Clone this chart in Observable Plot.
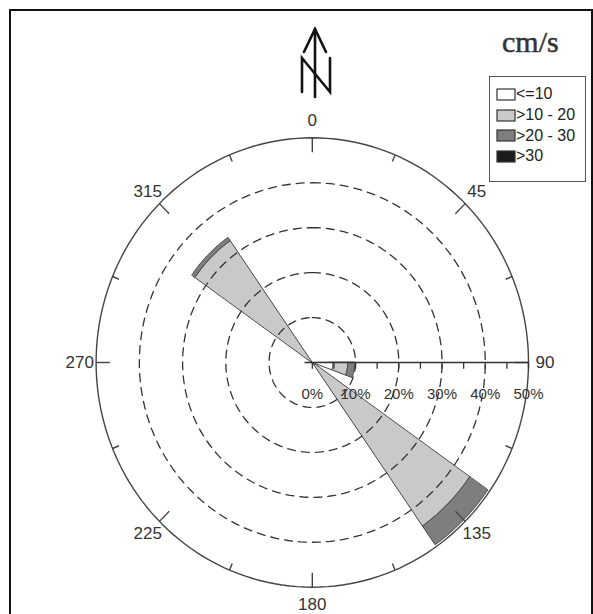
<!DOCTYPE html>
<html>
<head>
<meta charset="utf-8">
<script src="https://cdn.jsdelivr.net/npm/d3@7"></script>
<script src="https://cdn.jsdelivr.net/npm/@observablehq/plot@0.6"></script>
<style>
  html, body { margin: 0; padding: 0; background: #fff; }
  body { width: 593px; height: 614px; position: relative; overflow: hidden;
         font-family: "Liberation Sans", Arial, sans-serif; }
  #chart { position: absolute; left: 0; top: 0; }
  #frame { position: absolute; left: 9px; top: 9px; width: 580px; height: 700px;
           border: 2px solid #111; }
  #north { position: absolute; left: 0; top: 0; pointer-events: none; }
  #unit { position: absolute; left: 502px; top: 27px; font: 30px/30px "Liberation Serif", "Times New Roman", serif;
          color: #333; white-space: nowrap; -webkit-text-stroke: 0.5px #333; }
  #legend { position: absolute; left: 489px; top: 76px; width: 97px; height: 106px;
            border: 1.5px solid #555; box-sizing: border-box; padding: 7px 0 0 7px; background: #fff; }
  #legend .spd-swatches { font: 16px "Liberation Sans", Arial, sans-serif; color: #222; margin: 0; }
  #legend .spd-swatches .spd-swatch { height: 20.7px; padding: 0; display: flex; align-items: center; }
  #legend .spd-swatches .spd-swatch > svg { margin-right: 1px; overflow: visible; }
  #legend .spd-swatch rect { stroke: #333; stroke-width: 1.2px; }
  #legend .spd-swatches .spd-swatch-label { overflow: visible; }
</style>
</head>
<body>
<div id="frame"></div>
<div id="chart"></div>
<svg id="north" width="593" height="110" viewBox="0 0 593 110">
  <g fill="none" stroke="#111" stroke-width="2.6" stroke-linecap="round" stroke-linejoin="miter">
    <path d="M315,29V97"/>
    <path d="M304,52L315,29L326,52"/>
    <path d="M302,92V58L330,92V58"/>
  </g>
</svg>
<div id="unit">cm/s</div>
<div id="legend"></div>
<script>
// Speed classes (cm/s) and their fills
const speedClasses = ["<=10", ">10 - 20", ">20 - 30", ">30"];
const classColors = ["#ffffff", "#c9c9c9", "#7e7e7e", "#1c1c1c"];

// Direction sectors (degrees clockwise from north)
const sectorFrom = [90, 125, 305];
const sectorTo = [110, 145, 325];

// Frequency (%) of each speed class within each sector
const pctCalm = [4.8, 0.8, 0.4];
const pctLow = [3.4, 43.6, 32.7];
const pctMid = [1.6, 5.1, 0.9];
const pctHigh = [0, 0, 0];

// Radial grid and labels
const ringPcts = [10, 20, 30, 40, 50];
const pctTicks = [0, 5, 10, 15, 20, 25, 30, 35, 40, 45, 50];
const pctTickLabels = ["0%", "10%", "20%", "30%", "40%", "50%"];
const pctTickLabelValues = [0, 10, 20, 30, 40, 50];

// Compass ticks and labels
const compassTicks = d3.range(0, 360, 22.5);
const compassAngles = [0, 45, 90, 135, 180, 225, 270, 315];
const compassLabels = ["0", "45", "90", "135", "180", "225", "270", "315"];

// Layout of the polar frame on the page (pixels)
const W = 593, H = 614;
const cx = 311.8, cy = 362, rx = 216.2, ry = 224.7;
const maxPct = d3.max(ringPcts);
const kx = rx / maxPct, ky = ry / maxPct;
const labelR = 53.8;

const rad = (a) => a * Math.PI / 180;
const px = (r, a) => r * Math.sin(rad(a));
const py = (r, a) => r * Math.cos(rad(a));

// Band polygons: outer arc then inner arc back
const bands = [];
const arcSteps = 30;
sectorFrom.forEach((a0, i) => {
  const a1 = sectorTo[i];
  const parts = [pctCalm[i], pctLow[i], pctMid[i], pctHigh[i]];
  let r0 = 0;
  parts.forEach((p, k) => {
    if (p <= 0) return;
    const r1 = r0 + p;
    const id = i + "-" + k;
    for (let j = 0; j <= arcSteps; j++) bands.push({id, cls: speedClasses[k], a: a0 + (a1 - a0) * j / arcSteps, r: r1});
    for (let j = arcSteps; j >= 0; j--) bands.push({id, cls: speedClasses[k], a: a0 + (a1 - a0) * j / arcSteps, r: r0});
    r0 = r1;
  });
});

// Circle outlines
const ringPts = [];
ringPcts.forEach((r) => {
  for (let a = 0; a < 360; a += 2) ringPts.push({r, a});
});
const innerRings = ringPts.filter((d) => d.r < maxPct);
const outerRing = ringPts.filter((d) => d.r === maxPct);

const majorLen = 3.2, minorLen = 1.6;
const tickLen = (a) => (a % 45 === 0 ? majorLen : minorLen);

const chart = Plot.plot({
  width: W,
  height: H,
  margin: 0,
  x: {domain: [-cx / kx, (W - cx) / kx], axis: null},
  y: {domain: [-(H - cy) / ky, cy / ky], axis: null},
  color: {type: "ordinal", domain: speedClasses, range: classColors},
  style: {background: "transparent", overflow: "visible"},
  marks: [
    Plot.line(bands, {
      x: (d) => px(d.r, d.a), y: (d) => py(d.r, d.a), z: "id",
      fill: "cls", stroke: "#454545", strokeWidth: 1, curve: "linear-closed"
    }),
    Plot.line(innerRings, {
      x: (d) => px(d.r, d.a), y: (d) => py(d.r, d.a), z: "r",
      stroke: "#333", strokeWidth: 1.3, strokeDasharray: "8,6", curve: "linear-closed"
    }),
    Plot.line(outerRing, {
      x: (d) => px(d.r, d.a), y: (d) => py(d.r, d.a),
      stroke: "#444", strokeWidth: 1.4, curve: "linear-closed"
    }),
    Plot.link(compassTicks, {
      x1: (a) => px(maxPct, a), y1: (a) => py(maxPct, a),
      x2: (a) => px(maxPct - tickLen(a), a), y2: (a) => py(maxPct - tickLen(a), a),
      stroke: "#444", strokeWidth: 1.4
    }),
    Plot.link([maxPct], {
      x1: -1.8, y1: 0, x2: (d) => d, y2: 0,
      stroke: "#333", strokeWidth: 1.4
    }),
    Plot.ruleX(pctTicks, {x: (d) => d, y1: 0, y2: -1.5, stroke: "#333", strokeWidth: 1.3}),
    Plot.text(pctTickLabels, {
      x: (d, i) => pctTickLabelValues[i], y: 0, dy: 32, text: (d) => d,
      fontSize: 15, fill: "#333", textAnchor: "middle", lineAnchor: "middle"
    }),
    Plot.text(compassLabels, {
      x: (d, i) => px(labelR, compassAngles[i]), y: (d, i) => py(labelR, compassAngles[i]), text: (d) => d,
      fontSize: 17, fill: "#333", textAnchor: "middle", lineAnchor: "middle"
    })
  ]
});
chart.setAttribute("font-family", "Liberation Sans, Arial, sans-serif");
document.getElementById("chart").append(chart);

const legend = Plot.legend({
  legend: "swatches",
  color: {type: "ordinal", domain: speedClasses, range: classColors},
  columns: 1,
  swatchWidth: 18,
  swatchHeight: 11,
  className: "spd"
});
document.getElementById("legend").append(legend);
</script>
</body>
</html>
